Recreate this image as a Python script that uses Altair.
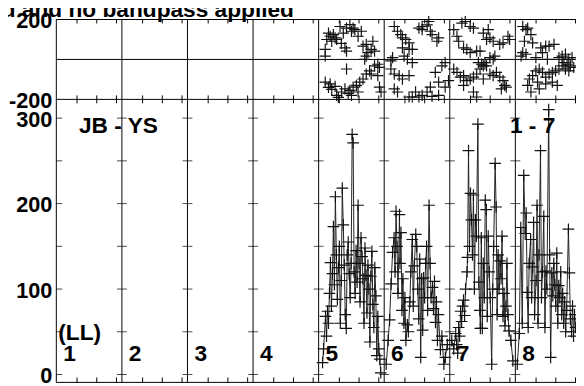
import altair as alt
import pandas as pd

# ---------------- layout constants (not data) ----------------
PW = 66.5      # channel-axis span of one IF panel
XMAX = 527     # visible channel-axis span
H = 368
FONT = "Liberation Sans"
FS = 23

# ---------------- data ----------------
if_names = ["1", "2", "3", "4", "5", "6", "7", "8"]
amp_tick_values = [0, 50, 100, 150, 200, 250, 300]
amp_label_values = [0, 100, 200, 300]
phase_label_values = [200, -200]
phase_line_values = [200, 0, -200]
chan_tick_offsets = [21, 41, 61]

title_text = "d and no bandpass applied"
baseline_text = "JB - YS"
antenna_text = "1 - 7"
pol_text = "(LL)"

# amplitude, IF 5..8 (channel offset within IF, amplitude)
amp5_x = [4, 5, 7, 8, 9, 10, 11, 12, 13, 14, 15, 16, 17, 18, 19, 20, 21, 22, 23, 24, 25, 26, 27, 28, 29, 30,
          31, 32, 33, 34, 35, 36, 37, 38, 39, 40, 41, 42, 43, 44, 45, 46, 47, 48, 49, 50, 51, 52, 53, 54, 55,
          56, 57, 58, 59, 60, 61, 62, 63]
amp5_y = [14, 30, 68, 45, 74, 60, 95, 131, 80, 118, 173, 105, 208, 140, 88, 125, 150, 60, 110, 218,
          175, 128, 70, 54, 140, 155, 118, 90, 130, 281, 271, 120, 95, 145, 108, 198, 130, 85, 160, 138,
          112, 60, 148, 116, 72, 128, 100, 38, 115, 144, 82, 55, 125, 92, 22, 68, 30, 18, 2]

amp6_x = [2, 4, 5.5, 7, 8.5, 10, 11, 12, 13, 14, 15.5, 16, 17, 18, 19, 20, 21, 22, 23.5, 24.5,
          26, 27, 28.5, 29.5, 30.5, 32, 33, 34, 35, 36, 37, 38, 39, 40, 41, 42, 43, 44, 45.5, 46.5,
          47.5, 49, 50, 51, 52, 53, 54, 55, 57, 58.5, 60.5, 62, 64]
amp6_y = [12, 40, 64, 106, 143, 160, 120, 191, 150, 95, 187, 130, 166, 75, 112, 60, 90, 40, 58, 50,
          85, 120, 158, 80, 127, 164, 150, 100, 65, 135, 20, 112, 52, 113, 90, 130, 150, 75, 198, 130,
          90, 102, 77, 109, 61, 85, 40, 70, 29, 45, 12, 20, 35]

amp7_x = [2, 4, 6, 7, 8, 9, 10, 11, 12, 13, 14, 15, 16, 17.5, 18, 19, 20, 21, 22, 23,
          24, 25, 26, 27, 28.5, 29.5, 30.5, 31, 32, 33, 34, 35, 36, 37, 38, 39, 40, 41, 42.5, 43.5,
          44.5, 46, 47, 48, 49, 50, 51, 52, 53, 54, 55, 56, 57, 58, 59, 60, 62, 64]
amp7_y = [40, 30, 48, 35, 25, 55, 45, 74, 62, 80, 87, 69, 100, 120, 137, 262, 150, 212, 181, 140,
          210, 100, 181, 162, 293, 108, 75, 54, 160, 54, 130, 90, 204, 193, 68, 162, 120, 90, 12, 100,
          150, 247, 196, 70, 140, 100, 133, 112, 162, 68, 95, 57, 80, 130, 70, 51, 40, 16]

amp8_x = [2, 4, 5.5, 7, 8.5, 10, 11, 12, 13, 14, 15.5, 16.5, 17.5, 18.5, 19.5, 21, 22, 23, 24, 25.5,
          26.5, 27.5, 28.8, 30, 31, 32, 33.8, 34.8, 35.8, 37, 38, 39, 40, 41, 42, 43, 44, 45, 46, 47,
          48, 49, 50, 51, 52, 53.8, 54.8, 55.8, 57, 58, 59, 60, 61]
amp8_y = [12, 48, 172, 60, 233, 165, 189, 96, 55, 130, 158, 90, 126, 178, 70, 110, 198, 60, 140, 262,
          90, 120, 185, 55, 121, 100, 310, 140, 20, 119, 92, 130, 105, 80, 142, 60, 104, 90, 120, 70,
          95, 60, 85, 50, 75, 170, 119, 65, 50, 80, 45, 70, 55]

# phase, IF 5..8 (channel offset within IF, phase in degrees)
ph5_x = [11.7, 15, 16.7, 8.3, 13.3, 18.3, 31.7, 35, 33.3, 36.7, 43.3, 28.3, 6.7, 6.7, 26.7, 28.3, 48.3, 55,
         56.7, 50, 53.3, 46.7, 48.3, 21.7, 25, 40, 45, 10, 23,
         28.3, 6.7, 11.7, 18.3, 23.3, 26.7, 35, 38.3, 40, 41.7, 45, 48.3, 51.7, 53.3, 56.7, 60, 61.7, 60,
         61.7, 63.3, 13.3, 16.7, 30, 31.7, 33.3, 20, 10]
ph5_y = [116, 124, 108, 100, 91, 100, 174, 157, 141, 149, 141, 157, 50, 17, 58, 42, 75, 91, 42, 34,
         50, 1, 17, 165, 132, 116, 67, 132, 80,
         -48, -114, -122, -180, -163, -147, -139, -130, -163, -114, -98, -73, -57, -73, -32, -24, -40, -81,
         -139, -163, -150, -135, -170, -155, -180, -190, -140]

ph6_x = [10.2, 13.5, 16.8, 18.5, 21.8, 25.2, 28.5, 18.5, 25.2, 35.2, 38.5, 45.2, 43.5, 46.8, 55.2, 53.5,
         8.5, 6.8, 23.5, 20.2, 28.5, 48.5, 38.5,
         6.8, 10.2, 15.2, 25.2, 18.5, 28.5, 35.2, 48.5, 55.2, 61.8, 55.2, 51.8, 58.5, 61.8, 65.2, 38.5,
         43.5, 46.8, 31.8, 13.5, 10.2, 25.2]
ph6_y = [165, 141, 124, 108, 100, 83, 50, 58, 50, 157, 149, 190, 173, 141, 108, 91, 9, -7, 1, 17,
         -16, 124, 165,
         -48, -73, -81, -81, -98, -188, -188, -185, -180, -139, -114, -65, -32, -16, -106, -180, -163,
         -139, -163, -163, -147, -188]

ph7_x = [4, 7.3, 9, 12.3, 15.7, 20.7, 24, 14, 17.3, 20.7, 27.3, 30.7, 34, 37.3, 40.7, 39, 44, 50.7, 54,
         59, 60.7, 40.7, 44, 45.7,
         4, 7.3, 10.7, 14, 17.3, 20.7, 24, 27.3, 30.7, 34, 37.3, 40.7, 44, 47.3, 50.7, 54, 55.7, 57.3,
         52.3, 24, 34, 29, 32.3, 35.7, 27.3, 14]
ph7_y = [149, 116, 91, 182, 190, 165, 157, 58, 50, 34, 42, 42, 132, 100, 108, 149, 91, 75, 83, 116,
         100, 9, 1, 17,
         -48, -65, -89, -81, -106, -98, -89, -73, -48, -32, -32, -73, -81, -65, -89, -106, -130, -139,
         -147, -163, -98, -16, -24, -16, -188, -130]

ph8_x = [7.5, 10.8, 12.5, 15.8, 9.2, 17.5, 7.5, 5.8, 10.8, 25.8, 30.8, 34.2, 39.2, 20.8, 27.5, 32.5,
         44.2, 47.5, 50.8, 54.2, 57.5, 49.2,
         14.2, 17.5, 20.8, 24.2, 27.5, 30.8, 34.2, 37.5, 40.8, 44.2, 47.5, 50.8, 52.5, 55.8, 24.2, 30.8,
         37.5, 42.5, 12.5, 15.8, 22.5, 59.2, 54.2]
ph8_y = [165, 149, 157, 124, 91, 83, 34, 17, 26, 58, 67, 67, 75, 9, 34, 1, 9, 17, 26, 1, 9, -16,
         -98, -81, -57, -48, -65, -89, -73, -65, -57, -48, -32, -48, -24, -32, -147, -122, -114, -130,
         -130, -163, -114, -40, -57]

# ---------------- tables ----------------
amp_sets = [(amp5_x, amp5_y), (amp6_x, amp6_y), (amp7_x, amp7_y), (amp8_x, amp8_y)]
ph_sets = [(ph5_x, ph5_y), (ph6_x, ph6_y), (ph7_x, ph7_y), (ph8_x, ph8_y)]

amp_rows, ph_rows = [], []
for j, (xs, ys) in enumerate(amp_sets):
    k = j + 4
    for i, (x, y) in enumerate(zip(xs, ys)):
        amp_rows.append({"IF": if_names[k], "gx": k * PW + x, "amp": y, "order": i})
for j, (xs, ys) in enumerate(ph_sets):
    k = j + 4
    for x, y in zip(xs, ys):
        ph_rows.append({"IF": if_names[k], "gx": k * PW + x, "phase": y})
amp_df = pd.DataFrame(amp_rows)
ph_df = pd.DataFrame(ph_rows)

bounds_df = pd.DataFrame({"gx": [k * PW for k in range(len(if_names) + 1)]})
ifname_df = pd.DataFrame({"gx": [k * PW for k in range(len(if_names))], "label": if_names})
xtick_df = pd.DataFrame({"gx": [k * PW + t for k in range(len(if_names)) for t in chan_tick_offsets]})
ytick_df = pd.DataFrame([{"gx": k * PW, "a": a} for k in range(1, len(if_names) + 1) for a in amp_tick_values])
ytick0_df = pd.DataFrame({"gx": [0] * len(amp_tick_values), "a": amp_tick_values})
phase_line_df = pd.DataFrame({"v": phase_line_values})
phase_lab_df = pd.DataFrame({"v": phase_label_values, "label": [str(v) for v in phase_label_values]})
amp_lab_df = pd.DataFrame({"v": amp_label_values, "label": [str(v) for v in amp_label_values]})

# ---------------- scales ----------------
xs = alt.Scale(domain=[0, XMAX], nice=False, zero=False)
ph_scale = alt.Scale(domain=[-200, 200], range=[81, 0], nice=False, zero=False)
amp_scale = alt.Scale(domain=[0, 300], range=[360, 100], nice=False, zero=False)


def X(f="gx"):
    return alt.X(f"{f}:Q", scale=xs, axis=None)


def YP(f):
    return alt.Y(f"{f}:Q", scale=ph_scale, axis=None)


def YA(f):
    return alt.Y(f"{f}:Q", scale=amp_scale, axis=None)


CROSS = "M-1,0H1M0,-1V1"
txt = dict(font=FONT, fontWeight="bold", color="black")

vlines = alt.Chart(bounds_df).mark_rule(color="black", strokeWidth=1).encode(
    x=X(), y=alt.value(0), y2=alt.value(H))
hlines = alt.Chart(phase_line_df).mark_rule(color="black", strokeWidth=1).encode(
    y=YP("v"), x=alt.value(0), x2=alt.value(XMAX))
bottom_line = alt.Chart(phase_line_df.head(1)).mark_rule(color="black", strokeWidth=1).encode(
    y=alt.value(H), x=alt.value(0), x2=alt.value(XMAX))

xt_top = alt.Chart(xtick_df).mark_rule(color="black").encode(x=X(), y=alt.value(0), y2=alt.value(4))
xt_mid = alt.Chart(xtick_df).mark_rule(color="black").encode(x=X(), y=alt.value(77), y2=alt.value(85))
xt_bot = alt.Chart(xtick_df).mark_rule(color="black").encode(x=X(), y=alt.value(363), y2=alt.value(H))

yt = alt.Chart(ytick_df).mark_tick(orient="horizontal", size=10, thickness=1, color="black").encode(
    x=X(), y=YA("a"))
yt0 = alt.Chart(ytick0_df).mark_tick(orient="horizontal", size=6, thickness=1, color="black", xOffset=3).encode(
    x=X(), y=YA("a"))

amp_line = alt.Chart(amp_df).mark_line(color="#222222", strokeWidth=1).encode(
    x=X(), y=YA("amp"), detail="IF:N", order="order:Q")
amp_pts = alt.Chart(amp_df).mark_point(shape=CROSS, size=140, filled=False, stroke="#111111",
                                       strokeWidth=1.2, opacity=1).encode(x=X(), y=YA("amp"))
ph_pts = alt.Chart(ph_df).mark_point(shape=CROSS, size=130, filled=False, stroke="#111111",
                                     strokeWidth=1.2, opacity=1).encode(x=X(), y=YP("phase"))

ph_labels = alt.Chart(phase_lab_df).mark_text(align="right", baseline="middle", fontSize=22, dy=2, **txt).encode(
    x=alt.value(-4), y=YP("v"), text="label:N")
amp_labels = alt.Chart(amp_lab_df).mark_text(align="right", baseline="middle", fontSize=22, dy=2, **txt).encode(
    x=alt.value(-4), y=YA("v"), text="label:N")

if_labels = alt.Chart(ifname_df).mark_text(align="left", baseline="alphabetic", fontSize=FS, dx=7, **txt).encode(
    x=X(), y=alt.value(346), text="label:N")

bl = alt.Chart(pd.DataFrame({"label": [baseline_text]})).mark_text(
    align="left", baseline="alphabetic", fontSize=FS, **txt).encode(
    x=alt.value(23), y=alt.value(115), text="label:N")
an = alt.Chart(pd.DataFrame({"label": [antenna_text]})).mark_text(
    align="left", baseline="alphabetic", fontSize=FS, **txt).encode(
    x=alt.value(460), y=alt.value(115), text="label:N")
pol = alt.Chart(pd.DataFrame({"label": [pol_text]})).mark_text(
    align="left", baseline="alphabetic", fontSize=FS, **txt).encode(
    x=alt.value(2), y=alt.value(325), text="label:N")
ttl = alt.Chart(pd.DataFrame({"label": [title_text]})).mark_text(
    align="right", baseline="alphabetic", fontSize=FS, **txt).encode(
    x=alt.value(241), y=alt.value(-3), text="label:N")

chart = alt.layer(
    vlines, hlines, bottom_line, xt_top, xt_mid, xt_bot, yt, yt0,
    amp_line, amp_pts, ph_pts,
    ph_labels, amp_labels, if_labels, bl, an, pol, ttl,
).resolve_scale(y="independent").properties(
    width=XMAX, height=H,
    autosize=alt.AutoSizeParams(type="none"),
    padding={"left": 49, "top": 9, "right": 0, "bottom": 1},
    background="white",
).configure_view(stroke=None)

chart.save("out.html", embed_options={"renderer": "svg", "actions": False})
